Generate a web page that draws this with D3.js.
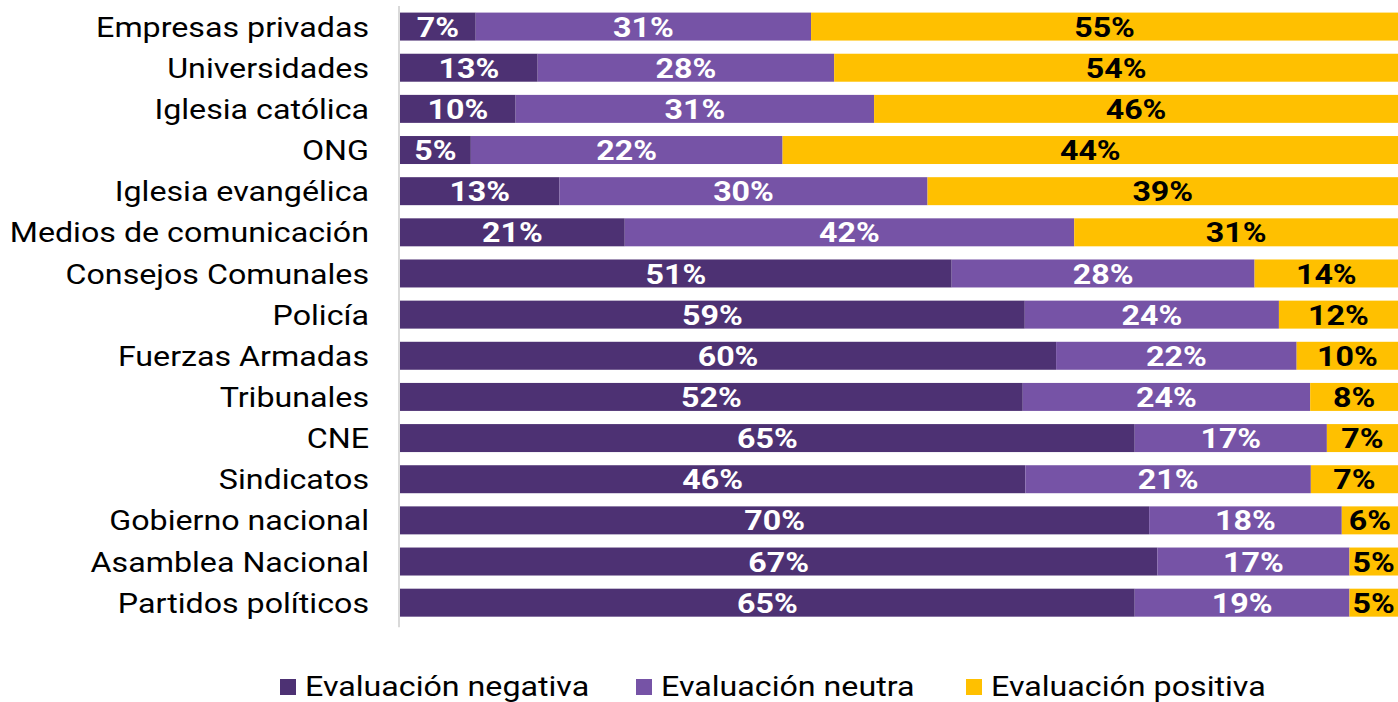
<!DOCTYPE html>
<html>
<head>
<meta charset="utf-8">
<script src="https://cdn.jsdelivr.net/npm/d3@7"></script>
<style>
  body { margin: 0; background: #fff; overflow: hidden; }
  svg { display: block; font-family: Roboto, sans-serif; }
</style>
</head>
<body>
<div id="chart"></div>
<script>
const categories = [
  'Empresas privadas', 'Universidades', 'Iglesia católica', 'ONG', 'Iglesia evangélica',
  'Medios de comunicación', 'Consejos Comunales', 'Policía', 'Fuerzas Armadas', 'Tribunales',
  'CNE', 'Sindicatos', 'Gobierno nacional', 'Asamblea Nacional', 'Partidos políticos'
]
const negativa = [7, 13, 10, 5, 13, 21, 51, 59, 60, 52, 65, 46, 70, 67, 65]
const neutra = [31, 28, 31, 22, 30, 42, 28, 24, 22, 24, 17, 21, 18, 17, 19]
const positiva = [55, 54, 46, 44, 39, 31, 14, 12, 10, 8, 7, 7, 6, 5, 5]
const seriesNames = ['Evaluación negativa', 'Evaluación neutra', 'Evaluación positiva']
const colors = ['#4d3173', '#7653a6', '#ffc000']
const labelColors = ['#fff', '#fff', '#000']

const width = 1398
const height = 702
const margin = {top: 6, left: 400, bottom: 80}
const stretch = 1.15  // text in the original is a bit wider than plain Roboto

const rows = categories.map((name, i) => {
  const vals = [negativa[i], neutra[i], positiva[i]]
  const total = d3.sum(vals)
  let acc = 0
  return {
    name,
    segs: vals.map((v, k) => {
      const s = {k, v, x0: acc / total, x1: (acc + v) / total}
      acc += v
      return s
    })
  }
})

const svg = d3.select('#chart').append('svg')
  .attr('width', width)
  .attr('height', height)

// bars run slightly past the right edge in the original
const x = d3.scaleLinear().domain([0, 1]).range([margin.left, 1406])
const y = d3.scaleBand().domain(categories)
  .range([margin.top, margin.top + 41.15 * categories.length])
  .paddingInner(0.32).paddingOuter(0.16)

const row = svg.selectAll('g.row').data(rows).join('g')
  .attr('class', 'row')
  .attr('transform', d => `translate(0,${y(d.name)})`)

row.selectAll('rect').data(d => d.segs).join('rect')
  .attr('x', d => x(d.x0))
  .attr('width', d => x(d.x1) - x(d.x0))
  .attr('height', y.bandwidth())
  .attr('fill', d => colors[d.k])

row.selectAll('text.val').data(d => d.segs).join('text')
  .attr('class', 'val')
  .attr('transform', d => `translate(${(x(d.x0) + Math.min(x(d.x1), width)) / 2},${y.bandwidth() / 2}) scale(${stretch},1)`)
  .attr('dy', '0.36em')
  .attr('text-anchor', 'middle')
  .attr('font-size', 28)
  .attr('font-weight', 700)
  .attr('fill', d => labelColors[d.k])
  .text(d => d.v + '%')

// category axis line
svg.append('line')
  .attr('x1', margin.left - 1).attr('x2', margin.left - 1)
  .attr('y1', margin.top).attr('y2', y.range()[1] + 4)
  .attr('stroke', '#d9d9d9').attr('stroke-width', 2)

svg.selectAll('text.cat').data(categories).join('text')
  .attr('class', 'cat')
  .attr('transform', d => `translate(369,${y(d) + y.bandwidth() / 2}) scale(${stretch},1)`)
  .attr('dy', '0.36em')
  .attr('text-anchor', 'end')
  .attr('font-size', 28)
  .attr('fill', '#000')
  .text(d => d)

// legend
const legendX = [280, 636, 966]
const legend = svg.selectAll('g.legend').data(seriesNames).join('g')
  .attr('class', 'legend')
  .attr('transform', (d, i) => `translate(${legendX[i]},679)`)
legend.append('rect')
  .attr('width', 16).attr('height', 16)
  .attr('fill', (d, i) => colors[i])
legend.append('text')
  .attr('transform', `translate(25,17) scale(${stretch},1)`)
  .attr('font-size', 28)
  .attr('fill', '#000')
  .text(d => d)
</script>
</body>
</html>
